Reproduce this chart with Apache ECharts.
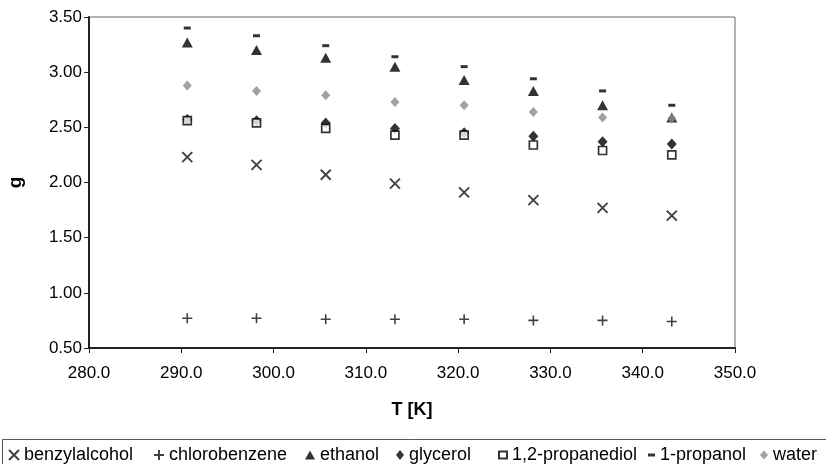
<!DOCTYPE html>
<html>
<head>
<meta charset="utf-8">
<script src="https://cdn.jsdelivr.net/npm/echarts@6/dist/echarts.min.js"></script>
<style>
  html, body { margin: 0; padding: 0; background: #fff; }
  #chart { width: 826px; height: 464px; }
</style>
</head>
<body>
<div id="chart"></div>
<script>
// temperatures (K)
const temps = [290.65, 298.15, 305.65, 313.15, 320.65, 328.15, 335.65, 343.15];

// g values per solvent
const benzylalcohol = [2.23, 2.16, 2.07, 1.99, 1.91, 1.84, 1.77, 1.70];
const chlorobenzene = [0.77, 0.77, 0.76, 0.76, 0.76, 0.75, 0.75, 0.74];
const ethanol = [3.27, 3.20, 3.13, 3.05, 2.93, 2.83, 2.70, 2.59];
const glycerol = [2.57, 2.56, 2.54, 2.49, 2.45, 2.42, 2.37, 2.35];
const propanediol12 = [2.56, 2.54, 2.49, 2.43, 2.43, 2.34, 2.29, 2.25];
const propanol1 = [3.40, 3.33, 3.24, 3.14, 3.05, 2.94, 2.83, 2.70];
const water = [2.88, 2.83, 2.79, 2.73, 2.70, 2.64, 2.59, 2.58];

const pairs = (ys) => temps.map((t, i) => [t, ys[i]]);

const crossPath = "path://M0,0L10,10M10,0L0,10";
const plusPath = "path://M5,0L5,10M0,5L10,5";

const series = [
  {
    name: "benzylalcohol",
    data: pairs(benzylalcohol),
    symbol: crossPath,
    symbolSize: 10,
    itemStyle: { color: "rgba(0,0,0,0)", borderColor: "#111", borderWidth: 1.9 },
  },
  {
    name: "chlorobenzene",
    data: pairs(chlorobenzene),
    symbol: plusPath,
    symbolSize: 10,
    itemStyle: { color: "rgba(0,0,0,0)", borderColor: "#111", borderWidth: 1.6 },
  },
  {
    name: "ethanol",
    data: pairs(ethanol),
    symbol: "triangle",
    symbolSize: [11, 10],
    itemStyle: { color: "#000" },
  },
  {
    name: "glycerol",
    data: pairs(glycerol),
    symbol: "diamond",
    symbolSize: [10, 11],
    itemStyle: { color: "#000" },
  },
  {
    name: "1,2-propanediol",
    data: pairs(propanediol12),
    symbol: "rect",
    symbolSize: 8,
    itemStyle: { color: "#fff", borderColor: "#000", borderWidth: 1.7 },
  },
  {
    name: "1-propanol",
    data: pairs(propanol1),
    symbol: "rect",
    symbolSize: [7, 3],
    itemStyle: { color: "#000" },
  },
  {
    name: "water",
    data: pairs(water),
    symbol: "diamond",
    symbolSize: [9, 10],
    itemStyle: { color: "#8a8a8a" },
  },
].map((s) => Object.assign({ type: "scatter", z: 3 }, s));

// legend entries: icon left edge and icon size, matched to the original layout
const legendSlots = [
  { left: 8, w: 10, h: 10 },
  { left: 153, w: 10, h: 10 },
  { left: 305, w: 10, h: 9 },
  { left: 396, w: 8, h: 10 },
  { left: 498, w: 8, h: 7 },
  { left: 648, w: 7, h: 3 },
  { left: 760, w: 8, h: 9 },
];
const legends = series.map((s, i) => ({
  left: legendSlots[i].left,
  top: 446,
  padding: 0,
  itemWidth: legendSlots[i].w,
  itemHeight: legendSlots[i].h,
  textStyle: { fontSize: 18, color: "#000", lineHeight: 18 },
  data: [s.name],
}));

const myChart = echarts.init(document.getElementById("chart"));
const option = {
  animation: false,
  textStyle: { fontFamily: "Liberation Sans, Arial, sans-serif" },
  grid: {
    left: 89,
    right: 91,
    top: 17,
    bottom: 116,
    outerBoundsMode: "none",
    show: true,
    borderColor: "#666",
    borderWidth: 1,
  },
  xAxis: {
    type: "value",
    min: 280,
    max: 350,
    interval: 10,
    name: "T [K]",
    nameLocation: "middle",
    nameGap: 53,
    nameTextStyle: { fontSize: 18, fontWeight: "bold", color: "#000" },
    axisLine: { show: true, lineStyle: { color: "#222", width: 2 } },
    axisTick: { show: true, length: 5, lineStyle: { color: "#222" } },
    axisLabel: {
      fontSize: 17,
      color: "#000",
      margin: 17,
      formatter: (v) => v.toFixed(1),
    },
    splitLine: { show: false },
  },
  yAxis: {
    type: "value",
    min: 0.5,
    max: 3.5,
    interval: 0.5,
    name: "g",
    nameLocation: "middle",
    nameGap: 64,
    nameTextStyle: { fontSize: 19, fontWeight: "bold", color: "#000" },
    axisLine: { show: true, lineStyle: { color: "#222", width: 2 } },
    axisTick: { show: true, length: 5, lineStyle: { color: "#222" } },
    axisLabel: {
      fontSize: 17,
      color: "#000",
      margin: 7,
      formatter: (v) => v.toFixed(2),
    },
    splitLine: { show: false },
  },
  legend: legends,
  graphic: [
    {
      type: "rect",
      shape: { x: 2.5, y: 439.5, width: 840, height: 40 },
      style: { fill: "none", stroke: "#555", lineWidth: 1 },
    },
  ],
  series: series,
};
myChart.setOption(option, true);
</script>
</body>
</html>
